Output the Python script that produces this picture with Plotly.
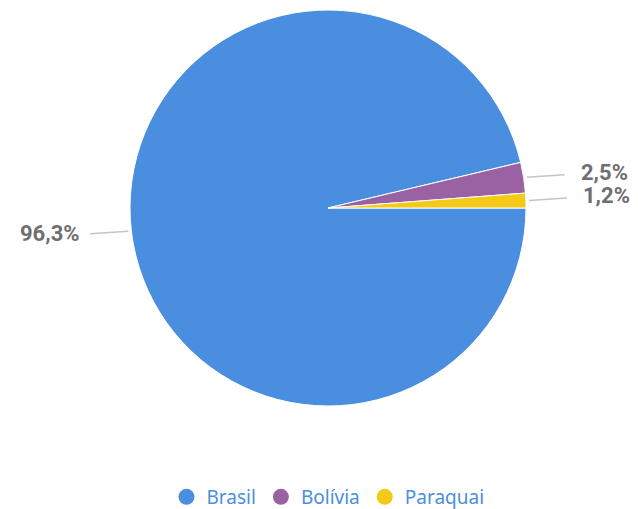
import math
import plotly.graph_objects as go

categories = ["Brasil", "Bolívia", "Paraquai"]
values = [96.3, 2.5, 1.2]
colors = ["#4a8fdf", "#9a62a3", "#f4c918"]

W, H = 638, 509
ML, MR, MT, MB = 18, 0, 10, 103
PW, PH = W - ML - MR, H - MT - MB
R = min(PW, PH) / 2
CX, CY = ML + PW / 2, MT + PH / 2


def to_paper(px, py):
    return (px - ML) / PW, (MT + PH - py) / PH


fig = go.Figure()
fig.add_trace(go.Pie(
    labels=categories, values=values, sort=False, direction="clockwise",
    rotation=90, textinfo="none", hoverinfo="label+percent",
    marker=dict(colors=colors, line=dict(color="white", width=1)),
    showlegend=False, domain=dict(x=[0, 1], y=[0, 1]),
))

for name, col in zip(categories, colors):
    fig.add_trace(go.Scatter(
        x=[None], y=[None], mode="markers", name=name,
        marker=dict(symbol="circle", size=20, color=col),
    ))

total = sum(values)
cum = 0.0
shapes, annotations = [], []
for name, v in zip(categories, values):
    frac = v / total
    mid = cum + frac / 2
    cum += frac
    ang = -mid * 2 * math.pi  # clockwise from 3 o'clock
    ca, sa = math.cos(ang), math.sin(ang)
    sx, sy = CX + (R + 3) * ca, CY - (R + 3) * sa
    side = 1 if ca >= 0 else -1
    ex, ey = sx + side * 38, sy - 2.5 * side
    x0, y0 = to_paper(sx, sy)
    x1, y1 = to_paper(ex, ey)
    shapes.append(dict(type="line", xref="paper", yref="paper",
                       x0=x0, y0=y0, x1=x1, y1=y1,
                       line=dict(color="#c4c4c4", width=1.5)))
    gap = 14 if side > 0 else 8
    tx, ty = to_paper(ex + side * gap, ey - (2 if side > 0 else 0))
    label = f"{v / total * 100:.1f}%".replace(".", ",")
    annotations.append(dict(
        x=tx, y=ty, xref="paper", yref="paper", text=f"<b>{label}</b>",
        showarrow=False, xanchor="left" if side > 0 else "right", yanchor="middle",
        font=dict(family="Roboto", size=22, color="#6f6f6f"),
    ))

fig.update_layout(
    width=W, height=H, autosize=False,
    margin=dict(l=ML, r=MR, t=MT, b=MB, autoexpand=False),
    paper_bgcolor="white", plot_bgcolor="white",
    xaxis=dict(visible=False), yaxis=dict(visible=False),
    shapes=shapes, annotations=annotations,
    showlegend=True,
    legend=dict(orientation="h", x=0.5, xanchor="center", y=(MT + PH - 497) / PH,
                yanchor="middle", itemsizing="trace", tracegroupgap=0,
                font=dict(family="Noto Sans", size=19, color="#4a8fdf"),
                itemwidth=30),
)

fig.write_html("out.html", config={"displayModeBar": False},
               post_script="document.body.style.margin='0';")
